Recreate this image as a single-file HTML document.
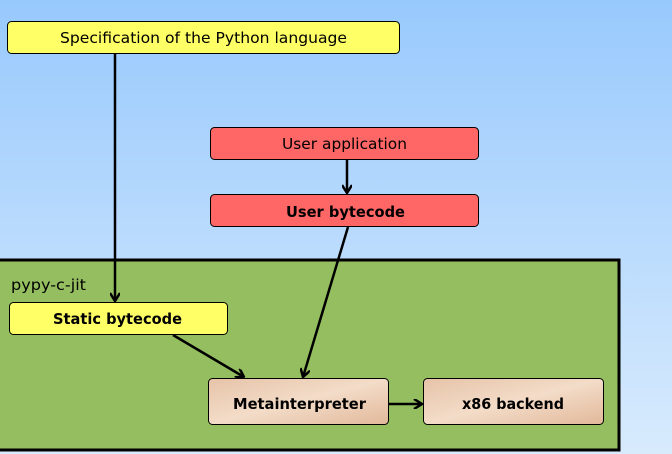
<!DOCTYPE html>
<html><head><style>
body{margin:0;width:672px;height:454px;overflow:hidden;background:linear-gradient(#98c9fd,#d8ebfd);font-family:"DejaVu Sans","Liberation Sans",sans-serif;}
</style></head><body>
<svg width="672" height="454" style="position:absolute;left:0;top:0">
<defs>
<marker id="a" markerWidth="10" markerHeight="10" refX="9" refY="5" orient="auto" markerUnits="userSpaceOnUse"><path d="M1,0 L9,5 L1,10" fill="none" stroke="#000" stroke-width="2.5"/></marker>
<linearGradient id="p" x1="0" y1="0" x2="1" y2="1"><stop offset="0" stop-color="#e6c3a8"/><stop offset="0.5" stop-color="#f3dcc8"/><stop offset="1" stop-color="#e2b89a"/></linearGradient>
</defs>
<rect x="-2" y="260" width="621" height="190" fill="#94be5f" stroke="#000" stroke-width="3"/>
<text x="11" y="290" font-size="15" textLength="75" lengthAdjust="spacingAndGlyphs">pypy-c-jit</text>
<rect x="7.5" y="21.5" width="392" height="32" rx="4" fill="#ffff66" stroke="#000"/>
<text x="60" y="43" font-size="15" textLength="287" lengthAdjust="spacingAndGlyphs">Specification of the Python language</text>
<rect x="210.5" y="127.5" width="268" height="32" rx="4" fill="#ff6666" stroke="#000"/>
<text x="282" y="149" font-size="15" textLength="125" lengthAdjust="spacingAndGlyphs">User application</text>
<rect x="210.5" y="194.5" width="268" height="32" rx="4" fill="#ff6666" stroke="#000"/>
<text x="286" y="217" font-size="15" font-weight="bold" textLength="119" lengthAdjust="spacingAndGlyphs">User bytecode</text>
<rect x="9.5" y="302.5" width="218" height="32" rx="4" fill="#ffff66" stroke="#000"/>
<text x="53" y="324" font-size="15" font-weight="bold" textLength="129" lengthAdjust="spacingAndGlyphs">Static bytecode</text>
<rect x="208.5" y="378.5" width="180" height="46" rx="4" fill="url(#p)" stroke="#000"/>
<text x="233" y="409" font-size="15" font-weight="bold" textLength="133" lengthAdjust="spacingAndGlyphs">Metainterpreter</text>
<rect x="423.5" y="378.5" width="180" height="46" rx="4" fill="url(#p)" stroke="#000"/>
<text x="462" y="409" font-size="15" font-weight="bold" textLength="102" lengthAdjust="spacingAndGlyphs">x86 backend</text>
<g stroke="#000" stroke-width="2.5" fill="none" marker-end="url(#a)">
<line x1="115" y1="54" x2="115" y2="301"/>
<line x1="347" y1="160" x2="347" y2="193"/>
<line x1="348" y1="227" x2="303" y2="377"/>
<line x1="173" y1="335" x2="244" y2="377"/>
<line x1="389" y1="404" x2="422" y2="404"/>
</g>
</svg>
</body></html>
